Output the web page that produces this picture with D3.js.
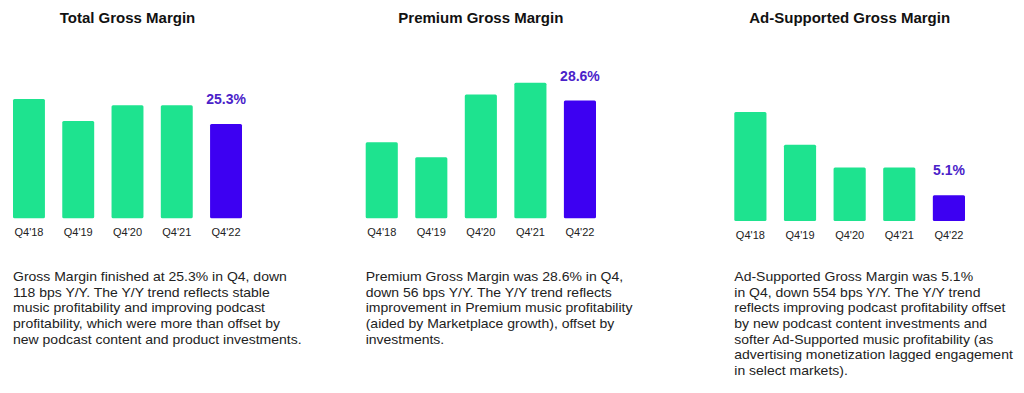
<!DOCTYPE html>
<html>
<head>
<meta charset="utf-8">
<script src="https://cdn.jsdelivr.net/npm/d3@7"></script>
<style>
  body { margin: 0; background: #fff; }
  svg { display: block; font-family: "Liberation Sans", Arial, sans-serif; }
</style>
</head>
<body>
<svg id="chart" width="1024" height="393"></svg>
<script>
// quarters shared by all three panels
var quarters = ["Q4'18", "Q4'19", "Q4'20", "Q4'21", "Q4'22"];

// gross margin % (axes are not zero-based for the first two)
var totalMargin = [26.1, 25.4, 25.9, 25.9, 25.3];
var premiumMargin = [27.2, 26.7, 28.8, 29.2, 28.6];
var adMargin = [21.6, 15.1, 10.6, 10.6, 5.1];

var titles = ["Total Gross Margin", "Premium Gross Margin", "Ad-Supported Gross Margin"];
var valueLabels = ["25.3%", "28.6%", "5.1%"];

var notes = [
  ["Gross Margin finished at 25.3% in Q4, down",
   "118 bps Y/Y. The Y/Y trend reflects stable",
   "music profitability and improving podcast",
   "profitability, which were more than offset by",
   "new podcast content and product investments."],
  ["Premium Gross Margin was 28.6% in Q4,",
   "down 56 bps Y/Y. The Y/Y trend reflects",
   "improvement in Premium music profitability",
   "(aided by Marketplace growth), offset by",
   "investments."],
  ["Ad-Supported Gross Margin was 5.1%",
   "in Q4, down 554 bps Y/Y. The Y/Y trend",
   "reflects improving podcast profitability offset",
   "by new podcast content investments and",
   "softer Ad-Supported music profitability (as",
   "advertising monetization lagged engagement",
   "in select markets)."]
];

var green = "#1ee38f", purple = "#3d00f2", labelPurple = "#4a22c9";

var svg = d3.select("#chart");

// panel layout
var panels = [
  {values: totalMargin,   domain: [22.3, 26.1],  x0: 13,    x1: 242, base: 218.3, top: 99},
  {values: premiumMargin, domain: [24.65, 29.2], x0: 365.7, x1: 596, base: 218.3, top: 82.7},
  {values: adMargin,      domain: [0, 21.6],     x0: 734.3, x1: 965, base: 221,   top: 112}
];

panels.forEach(function (p, i) {
  var g = svg.append("g");

  var x = d3.scaleBand()
      .domain(quarters)
      .range([p.x0, p.x1])
      .paddingInner(0.352)
      .paddingOuter(0);

  var y = d3.scaleLinear()
      .domain(p.domain)
      .range([p.base, p.top]);

  var cx = (p.x0 + p.x1) / 2;

  // title
  g.append("text")
      .attr("x", cx)
      .attr("y", 23)
      .attr("text-anchor", "middle")
      .attr("font-size", 15)
      .attr("font-weight", "bold")
      .attr("fill", "#111")
      .text(titles[i]);

  var data = quarters.map(function (q, j) { return {q: q, v: p.values[j], last: j == quarters.length - 1}; });

  g.selectAll("rect")
      .data(data)
      .enter().append("rect")
          .attr("x", function (d) { return x(d.q); })
          .attr("y", function (d) { return y(d.v); })
          .attr("width", x.bandwidth())
          .attr("height", function (d) { return p.base - y(d.v); })
          .attr("rx", 1.5)
          .attr("fill", function (d) { return d.last ? purple : green; });

  // value label on the latest bar
  var last = data[data.length - 1];
  g.append("text")
      .attr("x", x(last.q) + x.bandwidth() / 2)
      .attr("y", y(last.v) - 20)
      .attr("text-anchor", "middle")
      .attr("font-size", 14)
      .attr("font-weight", "bold")
      .attr("fill", labelPurple)
      .text(valueLabels[i]);

  // category labels
  g.selectAll("text.cat")
      .data(quarters)
      .enter().append("text")
          .attr("class", "cat")
          .attr("x", function (d) { return x(d) + x.bandwidth() / 2; })
          .attr("y", p.base + 18)
          .attr("text-anchor", "middle")
          .attr("font-size", 11)
          .attr("fill", "#222")
          .text(function (d) { return d; });

  // commentary (the source text is a bit wider than plain Arial)
  var t = g.append("text")
      .attr("transform", "translate(" + p.x0 + ",281) scale(1.12,1)")
      .attr("font-size", 12.5)
      .attr("fill", "#222");
  notes[i].forEach(function (line, k) {
    t.append("tspan")
        .attr("x", 0)
        .attr("dy", k == 0 ? 0 : 15.7)
        .text(line);
  });
});
</script>
</body>
</html>
